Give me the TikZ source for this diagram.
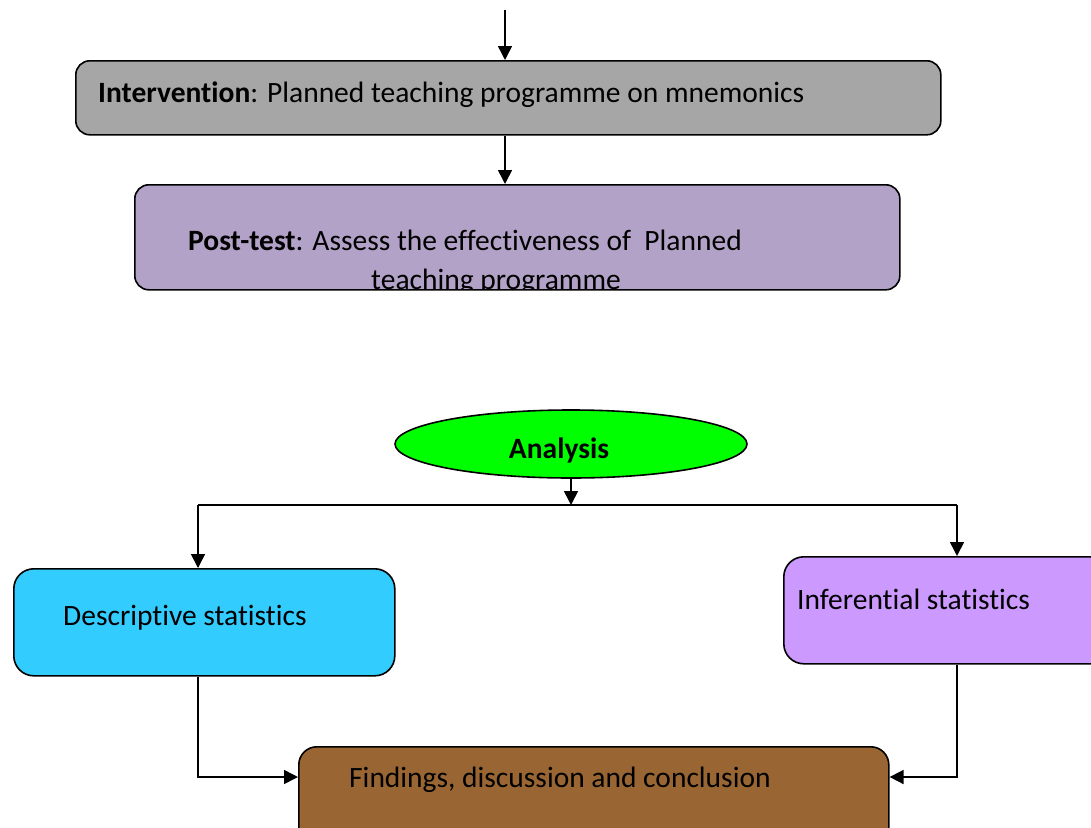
\documentclass[tikz,border=0pt]{standalone}
\usepackage{fontspec}
\setmainfont{Carlito}[Ligatures={NoCommon}]
\usetikzlibrary{shapes.geometric,arrows.meta}
\definecolor{cgray}{HTML}{A6A6A6}
\definecolor{cpost}{HTML}{B3A2C7}
\definecolor{cgreen}{HTML}{00FF00}
\definecolor{ccyan}{HTML}{33CCFF}
\definecolor{clilac}{HTML}{CC99FF}
\definecolor{cbrown}{HTML}{996633}
\begin{document}
\begin{tikzpicture}[x=1pt,y=-1pt,
  box/.style={draw=black, line width=1.6pt, rounded corners=14pt, anchor=north west, inner sep=0pt},
  lbl/.style={inner sep=0pt, font=\fontsize{29.5}{35}\selectfont},
  arr/.style={line width=1.6pt, -{Triangle[length=14pt,width=14pt]}},
  con/.style={line width=1.6pt}]
\useasboundingbox (0,0) rectangle (1091,827);
\clip (0,0) rectangle (1091,827);
% boxes
\node[box, fill=cgray, minimum width=865pt, minimum height=74pt] (int) at (75,60) {};
\node[box, fill=cpost, minimum width=765pt, minimum height=105pt] (post) at (134,184) {};
\node[draw=black, line width=1.6pt, ellipse, fill=cgreen, minimum width=352pt, minimum height=68pt, inner sep=0pt] (ana) at (571,444) {};
\node[box, fill=ccyan, rounded corners=20pt, minimum width=381pt, minimum height=107pt] (desc) at (13,568) {};
\node[box, fill=clilac, rounded corners=20pt, minimum width=348pt, minimum height=107pt] (inf) at (783,556) {};
\node[box, fill=cbrown, rounded corners=18pt, minimum width=590pt, minimum height=100pt] (fin) at (298,746) {};
% texts
\node[lbl, anchor=west] (tint) at (98,95) {\textbf{Intervention}: Planned teaching programme on mnemonics};
\node[lbl, anchor=west] (tpost) at (188,240) {\textbf{Post-test}: Assess the effectiveness of\ \ Planned};
\begin{scope}
  \clip (134,184) rectangle (899,288);
  \node[lbl] (tpost2) at (496,282) {teaching programme};
\end{scope}
\node[lbl] (tana) at (559,450) {\textbf{Analysis}};
\node[lbl, anchor=west] (tdesc) at (63,618) {Descriptive statistics};
\node[lbl, anchor=west] (tinf) at (797,599) {Inferential statistics};
\node[lbl, anchor=west] (tfin) at (349,780) {Findings, discussion and conclusion};
% connectors
\coordinate (top) at (505,10);
\coordinate (dl) at (198,505);
\coordinate (dr) at (957,505);
\coordinate (fy) at (0,777);
\draw[arr] (top) -- (top |- int.north);
\draw[arr] (top |- int.south) -- (top |- post.north);
\draw[arr] (ana.south) -- (ana.south |- dl);
\draw[con] (dl) -- (dr);
\draw[arr] (dl) -- (dl |- desc.north);
\draw[arr] (dr) -- (dr |- inf.north);
\draw[arr] (dl |- desc.south) |- (fin.west |- fy);
\draw[arr] (dr |- inf.south) |- (fin.east |- fy);
\end{tikzpicture}
\end{document}
